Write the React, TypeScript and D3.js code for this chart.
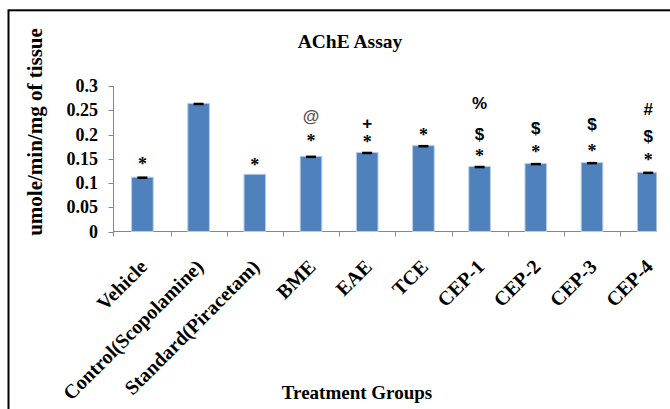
import React from "react";
import * as d3 from "d3";

const categories = [
  "Vehicle",
  "Control(Scopolamine)",
  "Standard(Piracetam)",
  "BME",
  "EAE",
  "TCE",
  "CEP-1",
  "CEP-2",
  "CEP-3",
  "CEP-4",
];
const values = [0.112, 0.264, 0.118, 0.155, 0.163, 0.177, 0.134, 0.14, 0.142, 0.122];
const errors = [0.0015, 0.0015, 0, 0.0015, 0.0015, 0.0015, 0.0015, 0.0015, 0.0015, 0.0015];
const yTicks = [0, 0.05, 0.1, 0.15, 0.2, 0.25, 0.3];
const yTickLabels = ["0", "0.05", "0.1", "0.15", "0.2", "0.25", "0.3"];

// significance marks: category, symbol, level (value units where the mark sits)
const markCategory = [
  "Vehicle", "Standard(Piracetam)", "BME", "BME", "EAE", "EAE", "TCE",
  "CEP-1", "CEP-1", "CEP-1", "CEP-2", "CEP-2", "CEP-3", "CEP-3", "CEP-4", "CEP-4", "CEP-4",
];
const markSymbol = [
  "*", "*", "*", "@", "*", "+", "*",
  "*", "$", "%", "*", "$", "*", "$", "*", "$", "#",
];
const markLevel = [
  0.144, 0.142, 0.191, 0.238, 0.19, 0.224, 0.204,
  0.16, 0.201, 0.264, 0.17, 0.213, 0.171, 0.221, 0.152, 0.196, 0.252,
];

const title = "AChE Assay";
const yTitle = "umole/min/mg of tissue";
const xTitle = "Treatment Groups";

export default function App() {
  const W = 670;
  const H = 409;
  const x0 = 114.3;
  const step = 56.2;
  const x = d3
    .scaleBand<string>()
    .domain(categories)
    .range([x0, x0 + step * categories.length])
    .paddingInner(0.615)
    .paddingOuter(0.3075);
  const y = d3.scaleLinear().domain([0, 0.3]).range([231.5, 86]);
  const bw = x.bandwidth();
  const cx = (c: string) => (x(c) as number) + bw / 2;
  const serif = "Liberation Serif, Times New Roman, Times, serif";
  const sans = "Liberation Sans, Arial, sans-serif";
  const axisColor = "#868686";
  const clipRight = 656.5;
  const serifStyle = { fontFamily: serif, fontWeight: 700 as const };

  return (
    <svg
      width={W}
      height={H}
      style={{ position: "absolute", left: 0, top: 0, background: "#fff" }}
    >
      <defs>
        <clipPath id="plotclip">
          <rect x={0} y={0} width={clipRight} height={H} />
        </clipPath>
      </defs>
      <rect x={0} y={0} width={W} height={H} fill="#fff" />
      {/* frame */}
      <rect x={8.5} y={10.3} width={800} height={600} fill="none" stroke="#000" strokeWidth={2} />

      <text x={350} y={48.3} textAnchor="middle" style={{ ...serifStyle, fontSize: 19.5 }}>
        {title}
      </text>

      <text
        transform={`translate(42,132) rotate(-90)`}
        textAnchor="middle"
        style={{ ...serifStyle, fontSize: 21 }}
      >
        {yTitle}
      </text>

      {/* y axis */}
      <line x1={113.5} x2={113.5} y1={y(0.3)} y2={236.5} stroke={axisColor} strokeWidth={1} />
      {yTicks.map((t, i) => (
        <g key={t}>
          <line x1={108.5} x2={113.5} y1={Math.round(y(t)) + 0.5} y2={Math.round(y(t)) + 0.5} stroke={axisColor} />
          <text
            x={98}
            y={y(t)}
            dy="0.34em"
            textAnchor="end"
            style={{ ...serifStyle, fontSize: 18 }}
          >
            {yTickLabels[i]}
          </text>
        </g>
      ))}

      <g clipPath="url(#plotclip)">
        {/* x axis */}
        <line x1={113.5} x2={x0 + step * categories.length} y1={231.5} y2={231.5} stroke={axisColor} />
        {categories.map((c, i) =>
          i === 0 ? null : (
            <line
              key={c}
              x1={Math.round(x0 + step * i) + 0.5}
              x2={Math.round(x0 + step * i) + 0.5}
              y1={231.5}
              y2={236.5}
              stroke={axisColor}
            />
          )
        )}
        {/* bars */}
        {categories.map((c, i) => (
          <rect
            key={c}
            x={x(c)}
            y={y(values[i])}
            width={bw}
            height={y(0) - y(values[i])}
            fill="#4F81BD"
            stroke="#B9CDE5"
            strokeWidth={1}
          />
        ))}
        {/* error bars */}
        {categories.map((c, i) =>
          errors[i] > 0 ? (
            <rect
              key={c}
              x={cx(c) - 5}
              y={y(values[i] + errors[i])}
              width={10}
              height={Math.max(2.5, y(values[i] - errors[i]) - y(values[i] + errors[i]))}
              fill="#000"
            />
          ) : null
        )}
      </g>

      {/* significance marks */}
      {markSymbol.map((s, i) => {
        const fs = s === "*" ? 18 : 17;
        return (
          <text
            key={i}
            x={cx(markCategory[i])}
            y={y(markLevel[i]) + (s === "*" ? 0.47 : 0.35) * fs}
            textAnchor="middle"
            style={{
              fontFamily: s === "*" ? serif : sans,
              fontWeight: 700,
              fontSize: fs,
            }}
            fill={s === "@" ? "#555" : "#000"}
          >
            {s}
          </text>
        );
      })}

      {/* x tick labels */}
      {categories.map((c) => (
        <text
          key={c}
          transform={`translate(${cx(c) + 6},${268}) rotate(-45)`}
          textAnchor="end"
          style={{ ...serifStyle, fontSize: 20 }}
        >
          {c}
        </text>
      ))}

      <text x={357} y={399} textAnchor="middle" style={{ ...serifStyle, fontSize: 19 }}>
        {xTitle}
      </text>
    </svg>
  );
}
